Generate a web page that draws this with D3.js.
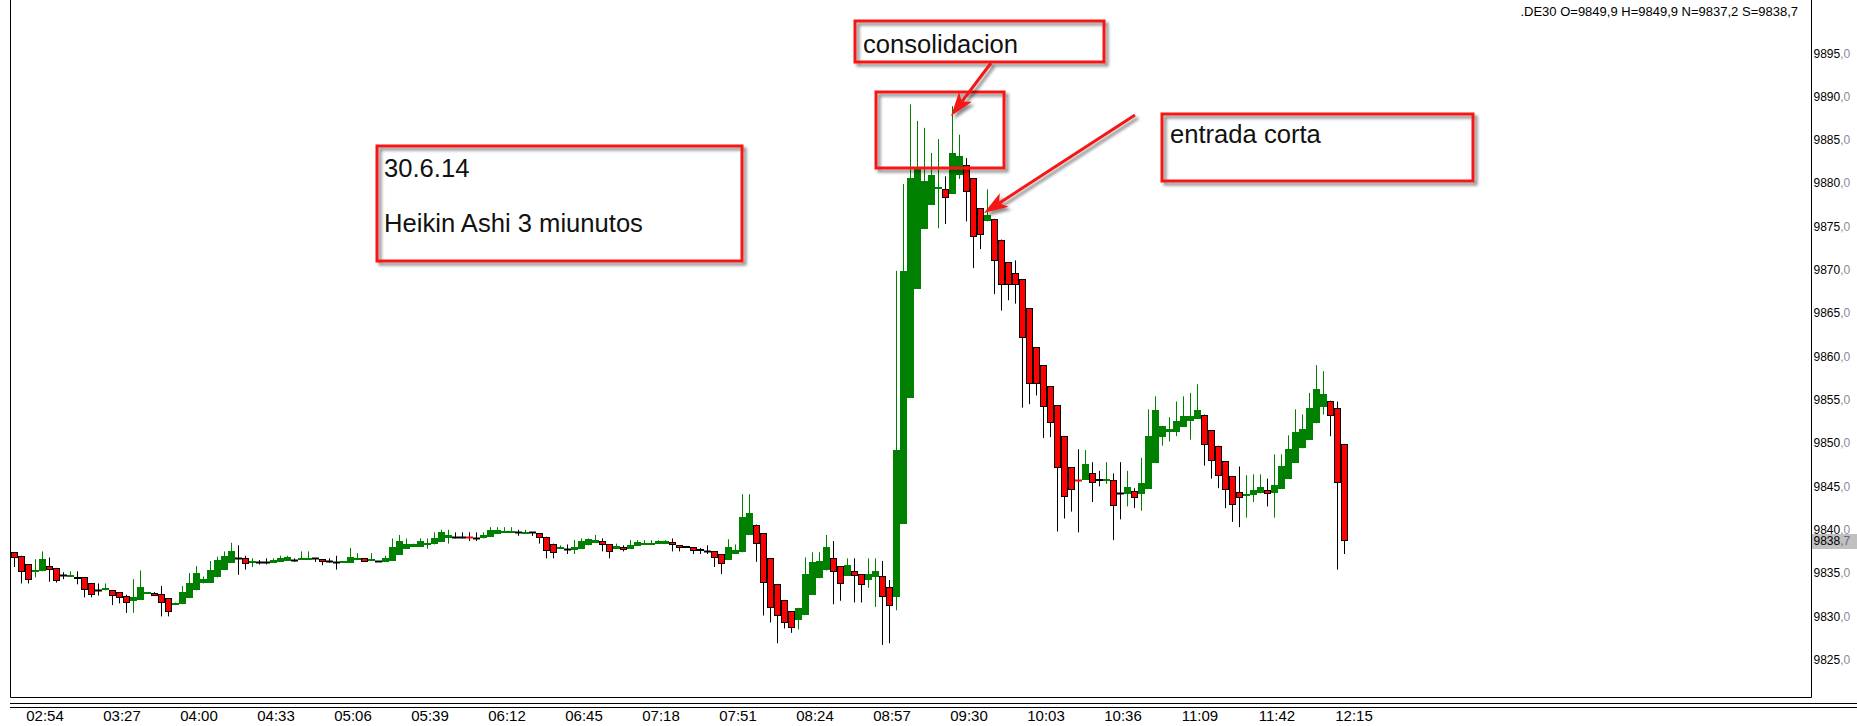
<!DOCTYPE html>
<html>
<head>
<meta charset="utf-8">
<script src="https://cdn.jsdelivr.net/npm/d3@7/dist/d3.min.js"></script>
<style>
  html, body { margin: 0; padding: 0; background: #fff; }
  svg { display: block; }
</style>
</head>
<body>
<div id="chart"></div>
<script>
// DE30, Heikin Ashi 3 minute bars, 30.6.14
const startTime = "02:42";
const barMinutes = 3;

const opens = [
  9837.4, 9837.0, 9836.0, 9835.1, 9835.2, 9835.8, 9835.6, 9834.8, 9834.6, 9834.6,
  9834.5, 9833.8, 9833.1, 9833.0, 9833.0, 9832.8, 9832.3, 9831.8, 9831.9, 9832.7,
  9832.7, 9832.6, 9832.1, 9831.3, 9831.4, 9832.1, 9833.0, 9833.8, 9833.9, 9834.5,
  9835.4, 9836.2, 9836.7, 9836.7, 9836.2, 9836.3, 9836.3, 9836.2, 9836.3, 9836.4,
  9836.5, 9836.5, 9836.5, 9836.7, 9836.6, 9836.4, 9836.3, 9836.2, 9836.2, 9836.5,
  9836.7, 9836.4, 9836.4, 9836.3, 9836.4, 9837.1, 9837.8, 9838.0, 9838.0, 9838.2,
  9838.3, 9838.6, 9839.1, 9839.2, 9839.2, 9839.2, 9839.1, 9839.0, 9839.2, 9839.5,
  9839.7, 9839.7, 9839.7, 9839.6, 9839.7, 9839.6, 9839.2, 9838.4, 9837.8, 9837.8,
  9837.7, 9837.8, 9838.2, 9838.5, 9838.7, 9838.3, 9837.8, 9838.0, 9837.8, 9838.1,
  9838.3, 9838.3, 9838.4, 9838.4, 9838.6, 9838.2, 9838.1, 9838.0, 9837.8, 9837.6,
  9837.5, 9837.2, 9836.5, 9837.2, 9837.4, 9839.4, 9840.6, 9839.6, 9836.7, 9833.7,
  9831.9, 9830.6, 9829.6, 9830.2, 9832.5, 9834.4, 9835.3, 9836.7, 9835.8, 9834.7,
  9835.2, 9834.9, 9834.2, 9834.5, 9834.7, 9833.4, 9832.2, 9840.7, 9855.2, 9867.8,
  9874.7, 9877.5, 9879.4, 9879.3, 9878.8, 9881.0, 9882.1, 9880.6, 9877.1, 9875.6,
  9875.9, 9873.5, 9870.9, 9869.6, 9868.9, 9865.6, 9861.1, 9859.0, 9856.6, 9854.4,
  9850.8, 9847.2, 9845.7, 9845.8, 9846.6, 9845.9, 9845.7, 9845.8, 9844.2, 9844.1,
  9844.5, 9844.1, 9844.7, 9847.7, 9850.7, 9851.3, 9851.3, 9851.9, 9852.5, 9852.8,
  9853.3, 9851.5, 9849.7, 9847.9, 9846.2, 9844.4, 9844.0, 9844.0, 9844.2, 9844.6,
  9844.2, 9844.7, 9845.9, 9847.7, 9849.4, 9850.4, 9852.3, 9854.2, 9854.9, 9854.0,
  9849.9
];
const highs = [
  9837.4, 9837.0, 9836.0, 9836.6, 9837.5, 9836.8, 9835.6, 9835.1, 9835.2, 9835.2,
  9834.5, 9833.8, 9833.8, 9833.8, 9833.0, 9832.8, 9832.5, 9834.3, 9835.3, 9832.8,
  9832.8, 9833.5, 9832.1, 9831.6, 9833.5, 9835.0, 9835.8, 9834.6, 9836.4, 9836.9,
  9837.5, 9838.5, 9838.2, 9837.0, 9836.7, 9836.5, 9836.7, 9836.7, 9837.0, 9837.0,
  9836.7, 9837.5, 9837.5, 9836.7, 9836.6, 9836.7, 9837.0, 9836.4, 9837.9, 9837.3,
  9836.7, 9837.3, 9836.4, 9837.0, 9839.0, 9839.4, 9839.0, 9838.4, 9839.0, 9839.0,
  9839.7, 9840.0, 9840.0, 9839.7, 9839.7, 9839.7, 9839.7, 9839.7, 9840.3, 9840.3,
  9840.3, 9840.3, 9840.0, 9840.0, 9839.7, 9839.6, 9839.2, 9838.4, 9838.2, 9838.3,
  9838.8, 9839.0, 9839.0, 9839.4, 9839.0, 9838.3, 9838.4, 9838.2, 9838.8, 9838.8,
  9838.8, 9838.8, 9838.8, 9838.8, 9839.0, 9838.2, 9838.1, 9838.0, 9837.9, 9838.2,
  9837.5, 9837.2, 9838.9, 9838.3, 9844.1, 9844.1, 9840.6, 9839.6, 9836.7, 9833.7,
  9831.9, 9830.6, 9831.0, 9836.8, 9837.4, 9837.4, 9839.4, 9838.7, 9835.8, 9836.7,
  9836.7, 9834.9, 9836.7, 9836.7, 9836.4, 9834.2, 9869.9, 9879.9, 9889.1, 9887.2,
  9886.4, 9883.5, 9885.1, 9880.8, 9888.9, 9885.6, 9882.9, 9880.6, 9877.1, 9879.3,
  9875.9, 9873.5, 9870.9, 9871.1, 9868.9, 9865.6, 9861.1, 9859.0, 9856.6, 9854.4,
  9850.8, 9847.2, 9849.3, 9849.2, 9847.8, 9846.8, 9847.8, 9846.5, 9847.8, 9846.8,
  9844.8, 9848.3, 9853.9, 9855.4, 9852.0, 9853.0, 9854.8, 9855.4, 9855.8, 9856.8,
  9853.3, 9851.5, 9849.7, 9847.9, 9846.2, 9847.3, 9846.3, 9846.4, 9846.4, 9845.9,
  9848.7, 9848.7, 9850.9, 9853.9, 9853.3, 9855.8, 9859.0, 9858.3, 9854.9, 9854.8,
  9849.9
];
const lows = [
  9835.7, 9833.8, 9833.8, 9834.5, 9835.2, 9834.0, 9833.9, 9834.3, 9834.6, 9833.7,
  9832.2, 9832.2, 9832.4, 9833.0, 9831.3, 9831.5, 9830.4, 9830.4, 9831.9, 9832.7,
  9832.4, 9830.0, 9830.0, 9831.3, 9831.4, 9832.1, 9833.0, 9833.8, 9833.9, 9834.5,
  9835.4, 9836.2, 9834.8, 9835.4, 9835.7, 9836.0, 9836.0, 9836.2, 9836.3, 9836.4,
  9836.3, 9836.5, 9836.5, 9836.3, 9835.9, 9836.2, 9835.4, 9836.2, 9836.2, 9836.5,
  9836.3, 9836.4, 9836.4, 9836.3, 9836.4, 9837.1, 9837.8, 9838.0, 9838.0, 9837.8,
  9838.3, 9838.6, 9838.4, 9839.0, 9839.0, 9838.7, 9838.7, 9839.0, 9839.2, 9839.5,
  9839.7, 9839.7, 9839.3, 9839.6, 9839.3, 9838.4, 9836.7, 9836.7, 9837.8, 9837.2,
  9837.2, 9837.8, 9838.2, 9838.5, 9837.5, 9836.7, 9837.8, 9837.5, 9837.8, 9838.1,
  9838.3, 9838.3, 9838.4, 9838.4, 9837.5, 9837.5, 9837.9, 9837.2, 9837.2, 9837.2,
  9835.7, 9834.9, 9836.5, 9837.2, 9837.4, 9839.4, 9836.3, 9830.1, 9829.3, 9826.9,
  9828.6, 9828.1, 9828.5, 9830.2, 9832.5, 9834.4, 9835.3, 9831.4, 9831.8, 9834.7,
  9831.6, 9831.6, 9833.3, 9831.1, 9826.7, 9826.9, 9830.7, 9840.7, 9855.2, 9867.8,
  9874.7, 9877.5, 9874.8, 9875.3, 9878.8, 9880.5, 9875.6, 9870.2, 9872.4, 9875.6,
  9867.2, 9865.3, 9866.5, 9866.1, 9854.1, 9854.5, 9855.5, 9850.6, 9850.7, 9839.8,
  9841.3, 9842.1, 9839.7, 9845.8, 9843.2, 9845.0, 9845.3, 9838.8, 9841.2, 9842.7,
  9842.5, 9842.2, 9844.7, 9847.7, 9849.7, 9850.2, 9850.8, 9851.9, 9850.4, 9852.8,
  9847.4, 9845.9, 9844.8, 9842.5, 9840.9, 9840.3, 9841.4, 9843.2, 9844.2, 9842.7,
  9841.4, 9844.7, 9845.9, 9847.7, 9849.4, 9850.4, 9852.3, 9853.3, 9850.8, 9835.4,
  9837.2
];
const closes = [
  9836.7, 9835.1, 9834.2, 9835.4, 9836.6, 9835.4, 9834.1, 9834.8, 9834.8, 9834.3,
  9833.0, 9832.5, 9833.1, 9833.3, 9832.4, 9832.1, 9831.5, 9832.2, 9833.4, 9832.8,
  9832.4, 9831.5, 9830.5, 9831.6, 9832.8, 9833.9, 9835.0, 9834.3, 9835.3, 9836.5,
  9837.0, 9837.6, 9836.7, 9836.0, 9836.4, 9836.3, 9836.3, 9836.5, 9836.7, 9836.8,
  9836.5, 9836.7, 9836.7, 9836.7, 9836.3, 9836.4, 9836.3, 9836.4, 9836.9, 9836.7,
  9836.3, 9836.6, 9836.4, 9836.7, 9838.0, 9838.7, 9838.3, 9838.4, 9838.7, 9838.5,
  9839.0, 9839.7, 9839.4, 9839.2, 9839.2, 9839.0, 9839.1, 9839.4, 9840.0, 9840.0,
  9839.8, 9839.8, 9839.7, 9839.7, 9839.7, 9839.0, 9837.6, 9837.3, 9838.0, 9837.8,
  9838.0, 9838.7, 9838.9, 9838.8, 9838.2, 9837.4, 9838.1, 9837.7, 9838.2, 9838.6,
  9838.5, 9838.5, 9838.7, 9838.7, 9838.2, 9837.9, 9837.9, 9837.6, 9837.5, 9837.6,
  9836.7, 9836.0, 9838.0, 9837.7, 9841.5, 9841.9, 9838.4, 9833.8, 9831.0, 9830.0,
  9829.2, 9828.7, 9831.0, 9834.9, 9836.3, 9836.4, 9838.0, 9835.1, 9833.7, 9835.9,
  9834.7, 9833.6, 9834.9, 9835.2, 9832.2, 9831.2, 9849.2, 9869.9, 9880.6, 9881.9,
  9880.3, 9881.0, 9879.6, 9878.3, 9883.5, 9883.2, 9879.0, 9873.8, 9874.0, 9876.3,
  9871.0, 9868.3, 9868.3, 9868.3, 9862.1, 9856.8, 9856.8, 9854.2, 9852.3, 9847.1,
  9843.8, 9844.6, 9845.6, 9847.6, 9845.4, 9845.6, 9845.9, 9842.7, 9844.2, 9844.9,
  9843.7, 9845.4, 9850.8, 9853.8, 9852.0, 9851.6, 9852.6, 9853.1, 9853.1, 9853.8,
  9849.8, 9847.9, 9846.2, 9844.6, 9842.9, 9843.7, 9844.1, 9844.6, 9844.9, 9844.1,
  9845.2, 9847.4, 9849.3, 9851.3, 9851.6, 9854.0, 9856.2, 9855.7, 9853.1, 9845.4,
  9838.7
];

const priceTicks = [9895, 9890, 9885, 9880, 9875, 9870, 9865, 9860, 9855, 9850, 9845, 9840, 9835, 9830, 9825];
const timeLabels = ["02:54", "03:27", "04:00", "04:33", "05:06", "05:39", "06:12", "06:45", "07:18",
                    "07:51", "08:24", "08:57", "09:30", "10:03", "10:36", "11:09", "11:42", "12:15"];
const lastPrice = 9838.7;
const headerText = ".DE30 O=9849,9 H=9849,9 N=9837,2 S=9838,7";

const width = 1857, height = 726;
const plotLeft = 10.5, plotRight = 1811.5, plotBottom = 697.5;

const svg = d3.select("#chart").append("svg")
    .attr("width", width)
    .attr("height", height)
    .style("font-family", "'Liberation Sans', Arial, sans-serif");

const bars = opens.map((o, i) => ({i: i, o: o, h: highs[i], l: lows[i], c: closes[i]}));

const x = d3.scaleLinear().domain([0, bars.length - 1]).range([14.5, 14.5 + (bars.length - 1) * 7]);
const y = d3.scaleLinear().domain([9825, 9895]).range([659.7, 53.3]);

function toMin(t) { let p = t.split(":"); return +p[0] * 60 + +p[1]; }

// frame
svg.append("path")
    .attr("d", `M${plotLeft},0V${plotBottom}H${plotRight}V0`)
    .attr("fill", "none").attr("stroke", "#000");
svg.append("line").attr("x1", plotLeft - 0.5).attr("x2", width).attr("y1", 703.5).attr("y2", 703.5).attr("stroke", "#000");
svg.append("line").attr("x1", plotLeft - 0.5).attr("x2", width).attr("y1", 707.5).attr("y2", 707.5).attr("stroke", "#000");

// price labels
const yLab = svg.append("g").attr("class", "y-axis").style("font-size", "12px");
priceTicks.forEach(p => {
    let t = yLab.append("text").attr("x", plotRight + 2).attr("y", y(p)).attr("dy", "0.35em");
    t.append("tspan").attr("fill", "#000").text(String(p));
    t.append("tspan").attr("fill", "#8a8a9a").text(",0");
});
let lp = svg.append("g");
lp.append("rect").attr("x", plotRight + 0.5).attr("y", Math.round(y(lastPrice)) - 7)
    .attr("width", width - plotRight).attr("height", 15).attr("fill", "#c0c0c0");
let lpt = lp.append("text").attr("x", plotRight + 2).attr("y", y(lastPrice)).attr("dy", "0.35em").style("font-size", "12px");
lpt.append("tspan").attr("fill", "#000").text(lastPrice.toFixed(1).split(".")[0]);
lpt.append("tspan").attr("fill", "#6a6a7a").text("," + lastPrice.toFixed(1).split(".")[1]);

// time labels
const xAxis = d3.axisBottom(x)
    .tickValues(timeLabels.map(t => (toMin(t) - toMin(startTime)) / barMinutes))
    .tickFormat((d, i) => timeLabels[i])
    .tickSize(0);
svg.append("g")
    .attr("class", "x-axis")
    .attr("transform", "translate(2,707)")
    .call(xAxis)
    .call(g => g.select(".domain").remove())
    .selectAll("text")
    .attr("fill", "#000")
    .style("font-family", "'Liberation Sans Narrow', 'Arial Narrow', sans-serif")
    .style("font-size", "15px");

// candles
const green = "#008000", red = "#ff0000";
const cg = svg.append("g").attr("class", "candles");
const candle = cg.selectAll("g").data(bars).enter().append("g");

candle.append("line")
    .attr("x1", d => x(d.i)).attr("x2", d => x(d.i))
    .attr("y1", d => y(d.h)).attr("y2", d => y(d.l))
    .attr("stroke", d => d.c > d.o ? green : "#000")
    .attr("stroke-width", 1);

candle.each(function(d) {
    let g = d3.select(this);
    let top = Math.round(y(Math.max(d.o, d.c)));
    let bot = Math.round(y(Math.min(d.o, d.c)));
    if (d.c > d.o) {
        g.append("rect")
            .attr("x", x(d.i) - 3.5).attr("y", top)
            .attr("width", 7).attr("height", Math.max(bot - top, 2))
            .attr("fill", green);
    } else if (d.c < d.o && bot - top >= 2) {
        g.append("rect")
            .attr("x", x(d.i) - 3).attr("y", top + 0.5)
            .attr("width", 6).attr("height", bot - top - 1)
            .attr("fill", red).attr("stroke", "#000").attr("stroke-width", 1);
    } else {
        g.append("line")
            .attr("x1", x(d.i) - 3.5).attr("x2", x(d.i) + 3.5)
            .attr("y1", top + 0.5).attr("y2", top + 0.5)
            .attr("stroke", d.c < d.o ? red : "#000").attr("stroke-width", 2);
    }
});

// header
svg.append("text")
    .attr("x", 1798).attr("y", 16)
    .attr("text-anchor", "end")
    .style("font-size", "13px")
    .attr("fill", "#000")
    .text(headerText);

// annotations
const defs = svg.append("defs");
const sh = defs.append("filter").attr("id", "shadow")
    .attr("x", "-10%").attr("y", "-10%").attr("width", "130%").attr("height", "140%");
sh.append("feDropShadow").attr("dx", 3).attr("dy", 3).attr("stdDeviation", 1.6)
    .attr("flood-color", "#000").attr("flood-opacity", 0.45);

const annRed = "#f51414";
const ann = svg.append("g").attr("class", "annotations");
const boxes = [
    {x: 377, y: 146, w: 365, h: 115},
    {x: 855, y: 21, w: 249, h: 41},
    {x: 876, y: 92, w: 128, h: 76},
    {x: 1162, y: 114, w: 311, h: 67}
];
boxes.forEach(b => {
    ann.append("rect").attr("x", b.x).attr("y", b.y).attr("width", b.w).attr("height", b.h)
        .attr("fill", "none").attr("stroke", annRed).attr("stroke-width", 3)
        .attr("filter", "url(#shadow)");
});

function arrow(x1, y1, x2, y2) {
    let a = Math.atan2(y2 - y1, x2 - x1);
    let L = 24, W = 8;
    let bx = x2 - L * Math.cos(a), by = y2 - L * Math.sin(a);
    let nx = -Math.sin(a), ny = Math.cos(a);
    let g = ann.append("g").attr("filter", "url(#shadow)");
    g.append("line").attr("x1", x1).attr("y1", y1).attr("x2", bx + 6 * Math.cos(a)).attr("y2", by + 6 * Math.sin(a))
        .attr("stroke", annRed).attr("stroke-width", 3);
    g.append("path")
        .attr("d", `M${x2},${y2}L${bx + W * nx},${by + W * ny}L${bx + 6 * Math.cos(a)},${by + 6 * Math.sin(a)}L${bx - W * nx},${by - W * ny}Z`)
        .attr("fill", annRed);
}
arrow(991, 63, 951, 116);
arrow(1135, 115, 984, 213);

const labels = [
    {x: 384, y: 177, t: "30.6.14"},
    {x: 384, y: 232, t: "Heikin Ashi 3 miunutos"},
    {x: 863, y: 53, t: "consolidacion"},
    {x: 1170, y: 143, t: "entrada corta"}
];
labels.forEach(l => {
    ann.append("text").attr("x", l.x).attr("y", l.y)
        .style("font-size", "25.6px").attr("fill", "#111").text(l.t);
});
</script>
</body>
</html>
